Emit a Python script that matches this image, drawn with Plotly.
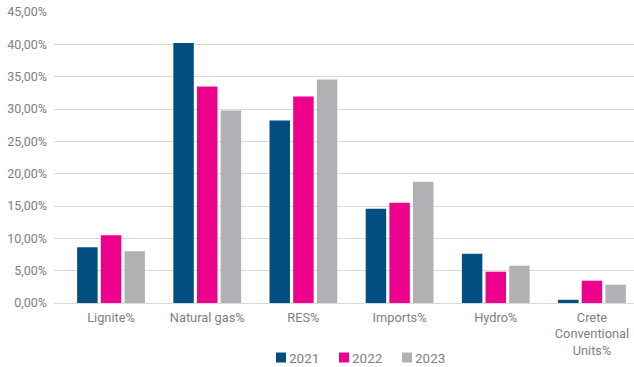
import plotly.graph_objects as go

categories = ["Lignite%", "Natural gas%", "RES%", "Imports%", "Hydro%", "Crete<br>Conventional<br>Units%"]
years = ["2021", "2022", "2023"]
values_2021 = [0.0861, 0.4019, 0.2824, 0.1458, 0.0762, 0.0050]
values_2022 = [0.1046, 0.3349, 0.3195, 0.1550, 0.0484, 0.0345]
values_2023 = [0.0799, 0.2978, 0.3457, 0.1875, 0.0577, 0.0283]
colors = ["#004F80", "#EC008C", "#B1B1B3"]

y_ticks = [i * 0.05 for i in range(10)]
y_tick_labels = [f"{v * 100:.2f}%".replace(".", ",") for v in y_ticks]

W, H = 634, 367
ML, MR, MT, MB = 54, 0, 12, 64
PW, PH = W - ML - MR, H - MT - MB

fig = go.Figure()
for name, vals, col in zip(years, [values_2021, values_2022, values_2023], colors):
    fig.add_trace(go.Bar(
        name=name,
        x=list(range(len(categories))),
        y=vals,
        marker=dict(color=col, line=dict(width=0)),
        showlegend=False,
    ))

font_color = "#808080"

# compact legend below the plot: small square swatch followed by the year
def px_x(px):
    return (px - ML) / PW

def px_y(py):
    return (H - MB - py) / PH

legend_left, legend_step, swatch, legend_mid = 276, 63, 10, 357.5
for i, (name, col) in enumerate(zip(years, colors)):
    x0 = legend_left + i * legend_step
    fig.add_shape(type="rect", xref="paper", yref="paper",
                  x0=px_x(x0), x1=px_x(x0 + swatch),
                  y0=px_y(legend_mid + swatch / 2), y1=px_y(legend_mid - swatch / 2),
                  fillcolor=col, line=dict(width=0))
    fig.add_annotation(xref="paper", yref="paper", x=px_x(x0 + swatch + 2), y=px_y(legend_mid),
                       text=name, showarrow=False, xanchor="left", yanchor="middle",
                       font=dict(size=13.5, color=font_color), borderpad=0)

fig.update_layout(
    width=W, height=H,
    margin=dict(l=ML, r=MR, t=MT, b=MB, autoexpand=False),
    paper_bgcolor="white", plot_bgcolor="white",
    barmode="group", bargap=0.262, bargroupgap=0.135,
    font=dict(family="Roboto, Arial, sans-serif", size=12.5, color=font_color),
    showlegend=False,
    xaxis=dict(
        tickmode="array", tickvals=list(range(len(categories))), ticktext=categories,
        range=[-0.593, 5.437], showgrid=False, zeroline=False, showline=False,
        ticks="", ticklabelstandoff=5, automargin=False,
        tickfont=dict(size=12.8, color=font_color),
    ),
    yaxis=dict(
        range=[0, 0.45], tickmode="array", tickvals=y_ticks, ticktext=y_tick_labels,
        showgrid=True, gridcolor="#D9D9D9", gridwidth=1,
        zeroline=True, zerolinecolor="#D9D9D9", zerolinewidth=1,
        showline=False, ticks="", ticklabelstandoff=6, automargin=False,
        tickfont=dict(size=12.5, color=font_color),
    ),
)

fig.write_html("out.html")
